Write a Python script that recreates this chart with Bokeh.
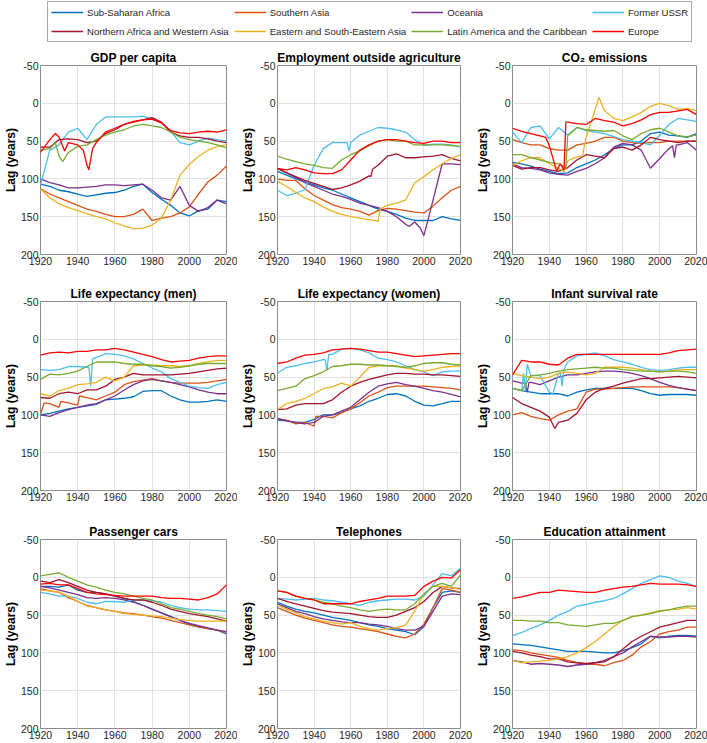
from bokeh.plotting import figure
from bokeh.models import Range1d, Legend, LegendItem, PrintfTickFormatter
from bokeh.layouts import column, row
from bokeh.embed import file_html
from bokeh.resources import INLINE

YEARS = list(range(1920, 2021, 5))
REGIONS = ["Sub-Saharan Africa", "Southern Asia", "Oceania", "Former USSR",
           "Northern Africa and Western Asia", "Eastern and South-Eastern Asia",
           "Latin America and the Caribbean", "Europe"]
KEYS = ["SSA", "SA", "OC", "USSR", "NAWA", "ESEA", "LAC", "EUR"]
COLORS = ["#0072BD", "#D95319", "#7E2F8E", "#4DBEEE", "#A2142F", "#EDB120", "#77AC30", "#FF0000"]
YTICKS = [-50, 0, 50, 100, 150, 200]
XTICKS = [1920, 1940, 1960, 1980, 2000, 2020]
TITLES = ["GDP per capita", "Employment outside agriculture", "CO\u2082 emissions",
          "Life expectancy (men)", "Life expectancy (women)", "Infant survival rate",
          "Passenger cars", "Telephones", "Education attainment"]

# values on the 5-year grid (YEARS)
GDP = {
    "SSA":  [107, 110, 115, 117, 120, 123, 121, 119, 118, 115, 110, 107, 118, 127, 135, 145, 149, 142, 140, 128, 130],
    "SA":   [113, 120, 125, 130, 135, 140, 143, 147, 150, 150, 147, 140, 155, 152, 150, 145, 137, 120, 104, 95, 83],
    "OC":   [100, 105, 108, 112, 112, 111, 110, 108, 108, 109, 108, 107, 115, 125, 128, 110, 135, 143, 138, 128, 133],
    "USSR": [108, 62, 55, 38, 33, 48, 28, 18, 18, 18, 18, 17, 21, 26, 37, 52, 55, 50, 46, 48, 50],
    "NAWA": [58, 58, 48, 47, 48, 52, 50, 40, 35, 28, 25, 22, 19, 25, 38, 43, 45, 45, 47, 50, 52],
    "ESEA": [113, 125, 133, 138, 142, 146, 150, 153, 158, 162, 166, 165, 161, 152, 128, 95, 81, 70, 62, 57, 55],
    "LAC":  [62, 60, 70, 65, 57, 55, 48, 42, 38, 35, 30, 28, 30, 32, 38, 45, 48, 50, 52, 55, 59],
    "EUR":  [65, 48, 45, 52, 55, 82, 52, 38, 33, 28, 24, 22, 21, 26, 36, 39, 40, 38, 37, 38, 35],
}
EMPLOY = {
    "SSA":  [90, 95, 100, 104, 108, 112, 115, 120, 125, 130, 135, 140, 143, 147, 152, 155, 155, 155, 150, 153, 155],
    "SA":   [100, 102, 102, 113, 122, 128, 134, 138, 140, 143, 148, 142, 139, 140, 142, 144, 145, 136, 125, 115, 110],
    "OC":   [86, 92, 98, 105, 110, 115, 120, 123, 127, 132, 135, 138, 143, 150, 160, 157, 175, 128, 80, 80, 81],
    "USSR": [115, 122, 119, 114, 82, 60, 52, 52, 52, 42, 37, 32, 33, 35, 38, 48, 56, 54, 54, 55, 58],
    "NAWA": [86, 92, 97, 102, 106, 110, 114, 112, 108, 103, 96, 82, 70, 67, 72, 72, 71, 70, 68, 73, 76],
    "ESEA": [103, 110, 118, 125, 130, 137, 143, 147, 150, 152, 154, 156, 135, 132, 128, 105, 97, 88, 80, 73, 68],
    "LAC":  [70, 74, 77, 80, 82, 85, 86, 75, 68, 63, 56, 50, 48, 50, 50, 55, 55, 55, 55, 56, 57],
    "EUR":  [86, 88, 85, 88, 92, 93, 93, 88, 75, 62, 55, 50, 48, 48, 50, 52, 53, 50, 50, 52, 52],
}
CO2 = {
    "SSA":  [78, 80, 83, 87, 90, 93, 92, 85, 80, 75, 68, 60, 55, 55, 50, 40, 38, 42, 43, 45, 40],
    "SA":   [48, 52, 55, 55, 60, 62, 62, 55, 53, 50, 45, 45, 50, 52, 53, 52, 52, 50, 50, 50, 50],
    "OC":   [80, 85, 86, 88, 92, 94, 95, 90, 86, 80, 72, 58, 53, 55, 62, 86, 73, 60, 55, 52, 62],
    "USSR": [38, 52, 32, 30, 47, 32, 42, 32, 36, 38, 40, 44, 48, 50, 52, 55, 42, 28, 20, 22, 24],
    "NAWA": [82, 87, 85, 85, 88, 90, 85, 75, 68, 70, 72, 60, 58, 62, 55, 45, 48, 50, 52, 50, 50],
    "ESEA": [82, 76, 72, 72, 80, 86, 76, 71, 45, 8, 10, 20, 23, 18, 12, 4, 0, 3, 8, 7, 10],
    "LAC":  [68, 68, 72, 75, 78, 80, 43, 32, 35, 36, 37, 36, 43, 48, 40, 35, 33, 38, 43, 44, 42],
    "EUR":  [33, 37, 40, 43, 56, 85, 25, 27, 28, 20, 23, 25, 30, 27, 22, 15, 12, 12, 10, 8, 15],
}
LIFE_MEN = {
    "SSA":  [100, 98, 95, 92, 90, 88, 86, 80, 79, 78, 76, 69, 68, 68, 75, 80, 83, 83, 82, 80, 82],
    "SA":   [99, 85, 90, 84, 87, 77, 80, 75, 70, 60, 56, 54, 52, 55, 57, 58, 58, 58, 57, 55, 53],
    "OC":   [100, 102, 97, 93, 90, 87, 85, 80, 75, 67, 60, 55, 53, 55, 57, 60, 63, 67, 70, 72, 72],
    "USSR": [40, 41, 40, 36, 36, 37, 24, 19, 20, 22, 26, 32, 38, 43, 52, 57, 62, 64, 65, 60, 57],
    "NAWA": [77, 78, 72, 70, 72, 67, 67, 62, 53, 50, 45, 47, 47, 47, 47, 46, 45, 43, 41, 39, 38],
    "ESEA": [72, 75, 68, 65, 60, 59, 57, 50, 55, 50, 35, 34, 34, 35, 35, 36, 35, 32, 30, 28, 28],
    "LAC":  [53, 46, 47, 45, 42, 36, 30, 30, 30, 32, 33, 33, 35, 36, 38, 37, 35, 33, 32, 32, 32],
    "EUR":  [21, 18, 17, 18, 16, 16, 14, 14, 12, 14, 17, 20, 23, 27, 30, 29, 28, 25, 23, 22, 22],
}
LIFE_WOMEN = {
    "SSA":  [107, 108, 110, 110, 106, 100, 100, 97, 92, 88, 82, 78, 73, 72, 75, 82, 87, 88, 85, 82, 82],
    "SA":   [105, 107, 112, 110, 115, 102, 104, 97, 92, 84, 75, 70, 64, 62, 62, 62, 62, 63, 64, 65, 67],
    "OC":   [105, 108, 110, 112, 110, 102, 100, 95, 90, 80, 70, 62, 59, 57, 60, 62, 65, 68, 70, 73, 76],
    "USSR": [45, 37, 35, 32, 30, 27, 20, 13, 12, 14, 18, 25, 27, 30, 35, 40, 43, 48, 43, 42, 42],
    "NAWA": [93, 92, 87, 85, 85, 85, 80, 70, 62, 57, 53, 50, 47, 45, 45, 46, 46, 47, 47, 48, 49],
    "ESEA": [93, 85, 82, 78, 72, 65, 63, 58, 62, 50, 37, 35, 35, 35, 38, 40, 42, 40, 37, 36, 35],
    "LAC":  [68, 65, 62, 52, 48, 43, 36, 35, 33, 33, 34, 34, 35, 36, 37, 35, 32, 31, 31, 33, 34],
    "EUR":  [32, 30, 25, 21, 20, 18, 14, 13, 12, 13, 15, 17, 17, 19, 21, 23, 22, 21, 20, 19, 19],
}
INFANT = {
    "SSA":  [65, 68, 70, 72, 72, 72, 75, 70, 67, 65, 65, 65, 65, 65, 68, 72, 74, 73, 73, 73, 74],
    "SA":   [100, 97, 102, 105, 107, 100, 95, 92, 70, 66, 66, 65, 64, 63, 63, 63, 63, 63, 64, 66, 68],
    "OC":   [55, 58, 57, 60, 55, 50, 47, 47, 45, 43, 42, 42, 43, 45, 48, 52, 57, 61, 64, 66, 68],
    "USSR": [65, 68, 48, 48, 70, 45, 30, 22, 20, 18, 22, 27, 30, 33, 37, 40, 41, 40, 38, 37, 37],
    "NAWA": [77, 85, 90, 95, 103, 110, 107, 98, 80, 70, 65, 62, 58, 55, 52, 52, 51, 50, 49, 50, 51],
    "ESEA": [45, 48, 50, 52, 50, 45, 43, 45, 47, 45, 37, 37, 37, 38, 40, 42, 43, 42, 40, 40, 40],
    "LAC":  [65, 68, 48, 47, 45, 42, 40, 39, 38, 37, 38, 38, 40, 41, 42, 42, 43, 42, 42, 43, 45],
    "EUR":  [47, 28, 30, 30, 33, 34, 25, 20, 20, 20, 20, 20, 20, 20, 20, 20, 20, 18, 15, 14, 13],
}
CARS = {
    "SSA":  [12, 12, 13, 10, 17, 20, 20, 22, 25, 28, 32, 37, 42, 47, 52, 57, 62, 65, 68, 70, 75],
    "SA":   [15, 18, 20, 27, 32, 37, 40, 43, 45, 47, 48, 50, 52, 54, 57, 60, 63, 66, 68, 70, 73],
    "OC":   [12, 14, 17, 20, 23, 27, 28, 27, 28, 30, 33, 37, 42, 47, 52, 57, 61, 64, 67, 70, 72],
    "USSR": [20, 22, 25, 25, 28, 33, 35, 32, 32, 33, 30, 30, 31, 33, 37, 40, 42, 43, 43, 44, 45],
    "NAWA": [5, 7, 3, 7, 12, 17, 20, 22, 25, 28, 30, 30, 33, 37, 42, 45, 48, 50, 52, 55, 58],
    "ESEA": [17, 18, 20, 25, 32, 38, 40, 43, 45, 48, 49, 50, 51, 52, 54, 56, 57, 58, 58, 58, 58],
    "LAC":  [-2, -4, -6, 0, 5, 10, 13, 17, 20, 22, 25, 28, 30, 35, 40, 42, 45, 48, 50, 52, 55],
    "EUR":  [9, 8, 10, 10, 15, 20, 22, 23, 24, 25, 25, 25, 25, 27, 28, 28, 29, 30, 27, 22, 10],
}
PHONES = {
    "SSA":  [33, 38, 42, 45, 47, 50, 53, 55, 57, 60, 63, 65, 68, 70, 72, 76, 65, 40, 20, 18, 20],
    "SA":   [40, 45, 50, 54, 57, 60, 63, 65, 66, 68, 70, 72, 75, 78, 80, 75, 62, 40, 15, 17, 20],
    "OC":   [35, 40, 45, 48, 52, 55, 57, 59, 60, 60, 62, 63, 65, 68, 70, 70, 65, 45, 25, 22, 23],
    "USSR": [28, 29, 30, 29, 28, 30, 31, 33, 35, 37, 33, 31, 30, 29, 29, 30, 25, 10, -5, -2, -12],
    "NAWA": [28, 32, 35, 38, 41, 44, 46, 47, 48, 50, 52, 53, 53, 50, 45, 40, 32, 20, 12, 14, 15],
    "ESEA": [37, 42, 47, 52, 55, 58, 60, 62, 60, 65, 68, 70, 68, 67, 63, 45, 22, 12, 12, 14, 16],
    "LAC":  [18, 20, 25, 28, 30, 33, 35, 38, 40, 43, 45, 43, 42, 43, 43, 35, 22, 12, 8, 12, -3],
    "EUR":  [18, 20, 25, 28, 30, 35, 35, 35, 35, 32, 30, 28, 25, 25, 25, 24, 12, 5, 0, 1, -10],
}
EDUCATION = {
    "SSA":  [88, 89, 90, 92, 94, 96, 98, 98, 98, 99, 100, 100, 97, 93, 88, 78, 80, 78, 77, 77, 78],
    "SA":   [96, 97, 100, 102, 104, 106, 110, 113, 115, 115, 117, 113, 110, 103, 92, 85, 75, 72, 70, 66, 66],
    "OC":   [110, 112, 115, 114, 115, 116, 118, 116, 115, 113, 110, 105, 100, 92, 85, 78, 79, 79, 78, 78, 79],
    "USSR": [77, 73, 68, 63, 57, 50, 45, 38, 36, 33, 31, 28, 22, 15, 8, 3, -2, 0, 5, 8, 12],
    "NAWA": [98, 100, 103, 105, 108, 108, 112, 113, 114, 113, 112, 105, 95, 85, 78, 72, 66, 63, 60, 57, 57],
    "ESEA": [110, 113, 112, 111, 110, 108, 105, 100, 93, 85, 75, 65, 57, 52, 50, 47, 44, 43, 42, 40, 42],
    "LAC":  [57, 57, 58, 58, 60, 60, 63, 64, 65, 63, 61, 61, 57, 52, 50, 48, 45, 43, 40, 38, 38],
    "EUR":  [28, 26, 23, 20, 20, 17, 18, 19, 20, 20, 17, 15, 13, 12, 10, 8, 9, 9, 9, 10, 12],
}

# additional (year, value) readings for sharp jumps and spikes between grid years
GDP_EXTRA = {
    "EUR": [(1928, 40), (1933, 63), (1943, 62), (1946, 88), (1948, 60)],
    "LAC": [(1928, 52), (1932, 77)],
}
EMPLOY_EXTRA = {
    "USSR": [(1958, 52), (1959, 63)],
    "OC": [(1992, 163), (1998, 165)],
    "ESEA": [(1976, 140)],
    "NAWA": [(1971, 97), (1972, 87)],
}
CO2_EXTRA = {
    "EUR": [(1938, 45), (1944, 90), (1946, 80), (1948, 88), (1949, 25)],
    "LAC": [(1949, 85)],
    "ESEA": [(1948, 90), (1958, 70), (1967, -8)],
    "OC": [(2007, 56), (2008, 72), (2009, 55)],
}
LIFE_MEN_EXTRA = {
    "USSR": [(1946, 37), (1947, 62), (1948, 26)],
    "SA": [(1922, 84), (1931, 82), (1941, 75)],
}
LIFE_WOMEN_EXTRA = {
    "USSR": [(1946, 27), (1947, 41), (1948, 20)],
    "SA": [(1941, 102)],
}
INFANT_EXTRA = {
    "USSR": [(1926, 45), (1927, 68), (1928, 33), (1942, 72), (1946, 44), (1947, 62), (1948, 40)],
    "NAWA": [(1943, 118)],
    "OC": [(1927, 58), (1928, 70), (1929, 57)],
}
CARS_EXTRA = {}
PHONES_EXTRA = {}
EDUCATION_EXTRA = {}

PANELS = [GDP, EMPLOY, CO2, LIFE_MEN, LIFE_WOMEN, INFANT, CARS, PHONES, EDUCATION]
EXTRAS = [GDP_EXTRA, EMPLOY_EXTRA, CO2_EXTRA, LIFE_MEN_EXTRA, LIFE_WOMEN_EXTRA,
          INFANT_EXTRA, CARS_EXTRA, PHONES_EXTRA, EDUCATION_EXTRA]

FONT = "Liberation Sans"
COL_LEFT = [36, 34, 34]
COL_FRAME = [190, 189, 190]
COL_RIGHT = [11, 12, 11]
ROW_TOP = [21, 21, 21]
ROW_FRAME = [189, 189, 189]
ROW_BOT = [26, 28, 15]


def series(data, extra, key):
    pts = dict(zip(YEARS, data[key]))
    pts.update(dict(extra.get(key, [])))
    xs = sorted(pts)
    return xs, [pts[x] for x in xs]


def make_panel(idx):
    r, c = divmod(idx, 3)
    p = figure(width=COL_LEFT[c] + COL_FRAME[c] + COL_RIGHT[c],
               height=ROW_TOP[r] + ROW_FRAME[r] + ROW_BOT[r],
               x_range=Range1d(1920, 2020), y_range=Range1d(200, -50),
               output_backend="svg", toolbar_location=None,
               min_border_left=COL_LEFT[c], min_border_right=COL_RIGHT[c],
               min_border_top=ROW_TOP[r], min_border_bottom=ROW_BOT[r],
               title=TITLES[idx])
    p.title.text_font = FONT
    p.title.text_font_size = "12px"
    p.title.text_font_style = "bold"
    p.title.text_color = "#000000"
    p.title.align = "center"
    p.title.standoff = 2
    p.title.offset = 0
    p.xaxis.ticker = XTICKS
    p.yaxis.ticker = YTICKS
    for ax in (p.xaxis, p.yaxis):
        ax.formatter = PrintfTickFormatter(format="%d")
        ax.major_label_text_font = FONT
        ax.major_label_text_font_size = "10.5px"
        ax.major_label_text_color = "#262626"
        ax.axis_line_color = None
        ax.major_tick_in = 0
        ax.major_tick_out = 0
        ax.major_tick_line_color = None
        ax.minor_tick_line_color = None
        ax.major_label_standoff = 2
    p.yaxis.axis_label = "Lag (years)"
    p.yaxis.axis_label_text_font = FONT
    p.yaxis.axis_label_text_font_size = "12px"
    p.yaxis.axis_label_text_font_style = "bold"
    p.yaxis.axis_label_text_color = "#000000"
    p.yaxis.axis_label_standoff = 0
    p.grid.grid_line_color = "#e1e1e1"
    p.outline_line_color = "#8c8c8c"
    p.outline_line_width = 1
    p.background_fill_color = "white"
    p.border_fill_color = "white"
    data, extra = PANELS[idx], EXTRAS[idx]
    for key, col in zip(KEYS, COLORS):
        xs, ys = series(data, extra, key)
        p.line(xs, ys, line_color=col, line_width=1.3)
    return p


panels = [make_panel(i) for i in range(9)]
TOTAL_W = sum(pp.width for pp in panels[:3])

# legend strip: lines use real data but ranges exclude them (only legend glyphs show)
leg = figure(width=TOTAL_W, height=44, output_backend="svg", toolbar_location=None,
             x_axis_type=None, y_axis_type=None, min_border=0,
             x_range=Range1d(0, 1), y_range=Range1d(0, 1))
leg.outline_line_color = None
leg.grid.visible = False
items = []
for name, key, col in zip(REGIONS, KEYS, COLORS):
    rr = leg.line(YEARS, GDP[key], line_color=col, line_width=1.3)
    items.append(LegendItem(label=name, renderers=[rr]))
legend = Legend(items=items, orientation="horizontal", ncols=4, nrows=2,
                location=(47, 2))
legend.label_text_font = FONT
legend.label_text_font_size = "9.6px"
legend.label_text_color = "#262626"
legend.glyph_width = 32
legend.glyph_height = 14
legend.label_height = 14
legend.label_standoff = 4
legend.spacing = 5
legend.padding = 3
legend.margin = 0
legend.border_line_color = "#555555"
legend.border_line_width = 1
legend.background_fill_alpha = 1
leg.add_layout(legend, "center")

layout = column(leg, row(*panels[0:3]), row(*panels[3:6]), row(*panels[6:9]))
open("out.html", "w").write(file_html(layout, INLINE))
